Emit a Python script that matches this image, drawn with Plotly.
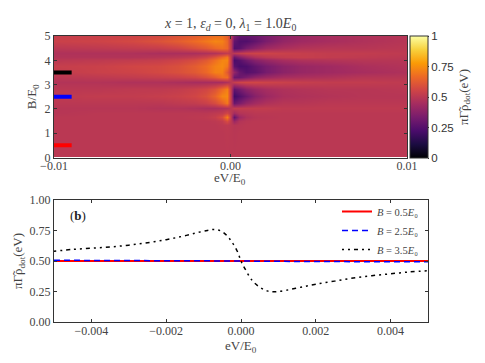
# Two panel figure - heatmap of the dot spectral function, line cuts underneath
import plotly.graph_objects as go

# top panel data
ev_grid = [-0.01, -0.0075, -0.0055, -0.004, -0.003, -0.002, -0.0014, -0.0009, -0.0005, -0.0002, 0,
           0.0002, 0.0005, 0.0009, 0.0014, 0.002, 0.003, 0.004, 0.0055, 0.0075, 0.01]
b_grid = [0, 1.0, 1.35, 1.5, 1.67, 1.85, 2.05, 2.25, 2.55, 2.8, 3.1, 3.3, 3.5, 3.75, 4.0, 4.15, 4.3, 4.5, 4.8, 5.0]
rho_grid = [
    [.50, .50, .50, .50, .50, .50, .50, .50, .50, .50, .50, .50, .50, .50, .50, .50, .50, .50, .50, .50, .50],
    [.50, .50, .50, .50, .50, .50, .50, .50, .50, .505, .50, .495, .50, .50, .50, .50, .50, .50, .50, .50, .50],
    [.50, .50, .50, .50, .50, .50, .50, .50, .505, .51, .50, .49, .495, .50, .50, .50, .50, .50, .50, .50, .50],
    [.50, .50, .50, .50, .50, .50, .50, .505, .52, .58, .50, .42, .48, .495, .50, .50, .50, .50, .50, .50, .50],
    [.50, .50, .50, .50, .50, .505, .51, .53, .58, .72, .50, .28, .42, .47, .49, .495, .50, .50, .50, .50, .50],
    [.49, .50, .50, .50, .50, .50, .50, .51, .52, .56, .50, .44, .48, .49, .50, .50, .50, .50, .50, .50, .50],
    [.49, .49, .49, .48, .48, .47, .46, .46, .47, .48, .50, .52, .52, .52, .52, .52, .51, .51, .51, .51, .51],
    [.50, .50, .50, .50, .51, .52, .54, .58, .64, .70, .50, .30, .34, .40, .44, .47, .49, .49, .50, .50, .50],
    [.51, .52, .52, .53, .54, .56, .59, .65, .73, .74, .50, .20, .24, .30, .37, .42, .46, .47, .48, .49, .49],
    [.50, .50, .51, .51, .52, .54, .56, .60, .67, .72, .50, .28, .32, .38, .42, .45, .47, .48, .49, .49, .50],
    [.48, .48, .47, .47, .46, .45, .45, .45, .45, .47, .50, .53, .55, .56, .56, .55, .54, .53, .52, .52, .51],
    [.50, .51, .52, .53, .54, .56, .59, .63, .68, .68, .50, .30, .30, .34, .39, .42, .45, .46, .47, .49, .49],
    [.52, .54, .55, .57, .59, .62, .66, .72, .72, .62, .50, .40, .30, .25, .27, .33, .38, .41, .43, .45, .47],
    [.53, .54, .56, .57, .59, .63, .67, .72, .74, .70, .50, .26, .22, .23, .28, .33, .38, .41, .43, .46, .48],
    [.50, .51, .52, .53, .55, .58, .62, .68, .73, .73, .50, .22, .25, .31, .37, .41, .45, .47, .48, .49, .49],
    [.48, .48, .48, .49, .50, .52, .55, .60, .66, .70, .50, .30, .36, .42, .47, .50, .52, .53, .52, .51, .50],
    [.47, .47, .47, .46, .46, .46, .47, .48, .50, .52, .50, .50, .52, .54, .55, .55, .54, .53, .52, .52, .51],
    [.50, .51, .52, .53, .55, .59, .62, .66, .68, .66, .50, .24, .26, .33, .38, .43, .46, .48, .49, .49, .50],
    [.54, .55, .57, .60, .63, .67, .70, .73, .72, .66, .50, .28, .24, .24, .28, .34, .40, .43, .45, .47, .49],
    [.53, .54, .55, .57, .60, .63, .66, .68, .68, .64, .50, .34, .28, .28, .30, .34, .39, .42, .45, .47, .49],
]

# the three short bars on the left of the heatmap
bar_x = [-0.01, -0.009]
bar_fields = [0.5, 2.5, 3.5]
bar_colors = ["red", "blue", "black"]

# bottom panel data
ev_cut = [-0.005, -0.0045, -0.004, -0.0035, -0.003, -0.0025, -0.002, -0.0016, -0.0012, -0.0009, -0.0007,
          -0.0005, -0.0003, -0.0001, 0, 0.0001, 0.0003, 0.0005, 0.0007, 0.0009, 0.0012, 0.0016, 0.002,
          0.0025, 0.003, 0.0035, 0.004, 0.0045, 0.005]
rho_b05 = [0.5] * 29
rho_b25 = [0.506, 0.506, 0.505, 0.505, 0.505, 0.505, 0.505, 0.505, 0.504, 0.503, 0.503, 0.502, 0.501, 0.5, 0.5,
           0.5, 0.499, 0.498, 0.497, 0.497, 0.496, 0.495, 0.495, 0.495, 0.495, 0.495, 0.495, 0.494, 0.494]
rho_b35 = [0.58, 0.595, 0.605, 0.615, 0.63, 0.65, 0.675, 0.70, 0.73, 0.75, 0.758, 0.74, 0.68, 0.58, 0.50,
           0.44, 0.34, 0.285, 0.255, 0.248, 0.26, 0.285, 0.31, 0.335, 0.36, 0.38, 0.395, 0.41, 0.42]

top_x_ticks = [-0.01, 0, 0.01]
top_x_labels = ["\u22120.01", "0.00", "0.01"]
top_y_ticks = [0, 1, 2, 3, 4, 5]
cbar_ticks = [0, 0.25, 0.5, 0.75, 1]
cbar_labels = ["0", "0.25", "0.5", "0.75", "1"]
low_x_ticks = [-0.004, -0.002, 0, 0.002, 0.004]
low_x_labels = ["\u22120.004", "\u22120.002", "0.000", "0.002", "0.004"]
low_y_ticks = [0, 0.25, 0.5, 0.75, 1]
low_y_labels = ["0.00", "0.25", "0.50", "0.75", "1.00"]

W, H = 485, 363
# plot area in page pixels, the margins below leave room for colorbar and labels
LEFT, RIGHT, TOP, BOTTOM = 54, 428, 36, 322
SERIF = "Liberation Serif"
GREY = "#444444"
RHO_LABEL = "\u03c0\u0393\u0303\u03c1<sub>dot</sub>(eV)"
EV_LABEL = "eV/E<sub>0</sub>"


def px(x):
    return (x - LEFT) / (RIGHT - LEFT)


def py(y):
    return (BOTTOM - y) / (BOTTOM - TOP)


def page_text(text, x, y, size=13, color=GREY):
    return dict(text=text, xref="paper", yref="paper", x=px(x), y=py(y), xanchor="center", yanchor="middle",
                showarrow=False, font=dict(family=SERIF, size=size, color=color))


fig = go.Figure()
fig.add_trace(go.Heatmap(
    x=ev_grid, y=b_grid, z=rho_grid,
    colorscale="Inferno", zmin=0, zmax=1, zsmooth="best",
    colorbar=dict(
        x=px(410), xanchor="left", xpad=0, ypad=0,
        y=py(97), yanchor="middle",
        thickness=18, thicknessmode="pixels",
        len=122, lenmode="pixels",
        outlinecolor="#333333", outlinewidth=1,
        tickvals=cbar_ticks, ticktext=cbar_labels,
        ticks="outside", ticklen=1, tickcolor="#333333",
        tickfont=dict(family="Liberation Sans", size=11.5, color="#333333"),
        title=dict(text=RHO_LABEL, side="right", font=dict(family=SERIF, size=13, color=GREY)),
    ),
))
for field, color in zip(bar_fields, bar_colors):
    fig.add_trace(go.Scatter(x=bar_x, y=[field, field], mode="lines", showlegend=False,
                             line=dict(color=color, width=4), xaxis="x", yaxis="y"))

# line cuts
fig.add_trace(go.Scatter(x=ev_cut, y=rho_b05, mode="lines", name="<i>B</i> = 0.5<i>E</i>\u2080",
                         line=dict(color="red", width=2), xaxis="x2", yaxis="y2"))
fig.add_trace(go.Scatter(x=ev_cut, y=rho_b25, mode="lines", name="<i>B</i> = 2.5<i>E</i>\u2080",
                         line=dict(color="blue", width=1.5, dash="6px,4px"), xaxis="x2", yaxis="y2"))
fig.add_trace(go.Scatter(x=ev_cut, y=rho_b35, mode="lines", name="<i>B</i> = 3.5<i>E</i>\u2080",
                         line=dict(color="black", width=1.5, dash="2px,4px,2px,4px,4px,4px", shape="spline"),
                         xaxis="x2", yaxis="y2"))

axis_style = dict(showline=True, linecolor="#333333", linewidth=1.3, mirror="ticks", ticks="inside",
                  ticklen=3, tickcolor="#333333", showgrid=False, zeroline=False,
                  tickfont=dict(family=SERIF, size=12, color=GREY))

fig.update_layout(
    width=W, height=H,
    margin=dict(l=LEFT, r=W - RIGHT, t=TOP, b=H - BOTTOM, autoexpand=False),
    paper_bgcolor="white", plot_bgcolor="white",
    font=dict(family=SERIF, color=GREY),
    xaxis=dict(domain=[0, px(407)], anchor="y", range=[-0.01, 0.01], tickvals=top_x_ticks,
               ticktext=top_x_labels, ticklabelstandoff=-3, **axis_style),
    yaxis=dict(domain=[py(157.5), 1], anchor="x", range=[0, 5], tickvals=top_y_ticks,
               title=dict(text="B/E<sub>0</sub>", standoff=4, font=dict(size=13)), **axis_style),
    xaxis2=dict(domain=[0, 1], anchor="y2", range=[-0.005, 0.005], tickvals=low_x_ticks,
                ticktext=low_x_labels, ticklabelstandoff=-3, **axis_style),
    yaxis2=dict(domain=[0, py(200)], anchor="x2", range=[0, 1], tickvals=low_y_ticks,
                ticktext=low_y_labels, title=dict(text=RHO_LABEL, standoff=3, font=dict(size=13)),
                **axis_style),
    legend=dict(x=px(424), xanchor="right", y=py(197), yanchor="top", bgcolor="rgba(0,0,0,0)",
                borderwidth=0, font=dict(family=SERIF, size=10.5, color=GREY), tracegroupgap=0),
    annotations=[
        page_text("<i>x</i> = 1, <i>\u03b5<sub>d</sub></i> = 0, <i>\u03bb</i><sub>1</sub> = 1.0<i>E</i><sub>0</sub>",
                  230, 24, size=14),
        page_text("(<b>b</b>)", 78, 215, color="#222222"),
        page_text(EV_LABEL, 230, 178),
        page_text(EV_LABEL, 241, 346),
    ],
)

fig.write_html("out.html", config=dict(displayModeBar=False), post_script="document.body.style.margin='0';")
